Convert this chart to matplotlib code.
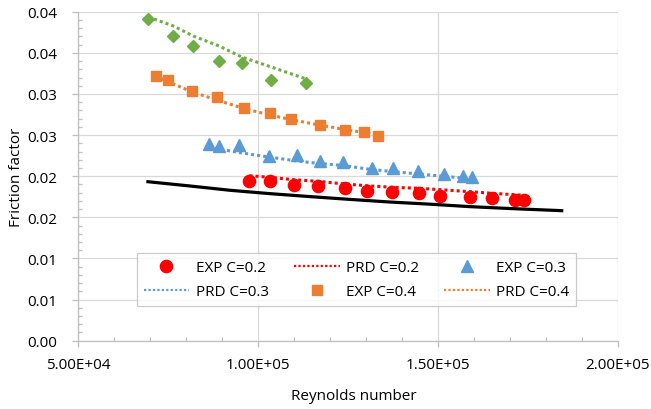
import matplotlib
matplotlib.use("Agg")
import matplotlib.pyplot as plt
from matplotlib.ticker import FixedLocator, MultipleLocator, FixedFormatter

plt.rcParams['font.family'] = ['Open Sans', 'DejaVu Sans']

# ---- data ----
re_c02 = [97640, 103330, 110000, 116580, 124170, 130360, 137310, 144810, 150750, 158890, 165080, 171390, 173890]
exp_c02 = [0.01945, 0.01938, 0.01897, 0.01884, 0.01853, 0.01824, 0.01804, 0.01793, 0.01763, 0.01743, 0.01731, 0.01714, 0.01714]
prd_c02 = [0.02006, 0.01987, 0.01957, 0.01938, 0.01905, 0.01884, 0.01865, 0.01853, 0.01836, 0.01812, 0.01792, 0.01775, 0.01768]

re_c03 = [86390, 89170, 94720, 103140, 110750, 117220, 123690, 131580, 137420, 144530, 151670, 157030, 159640]
exp_c03 = [0.02391, 0.02371, 0.02379, 0.02249, 0.02258, 0.02181, 0.02176, 0.02096, 0.02100, 0.02060, 0.02023, 0.01999, 0.01994]
prd_c03 = [0.02355, 0.02331, 0.02288, 0.02233, 0.02185, 0.02154, 0.02130, 0.02081, 0.02057, 0.02027, 0.01999, 0.01978, 0.01966]

re_c04 = [71580, 74920, 81750, 88530, 96110, 103330, 109080, 117140, 124170, 129440, 133420]
exp_c04 = [0.03222, 0.03166, 0.03032, 0.02959, 0.02826, 0.02772, 0.02692, 0.02626, 0.02565, 0.02537, 0.02492]
prd_c04 = [0.03218, 0.03151, 0.03024, 0.02927, 0.02823, 0.02744, 0.02689, 0.02622, 0.02568, 0.02531, 0.02501]

re_c05 = [69530, 76470, 82030, 89170, 95470, 103690, 113420]
exp_c05 = [0.03911, 0.03701, 0.03579, 0.03397, 0.03376, 0.03166, 0.03137]
prd_c05 = [0.03936, 0.03827, 0.03705, 0.03584, 0.03450, 0.03328, 0.03182]

re_ref = [69444, 81111, 92222, 103333, 114444, 125556, 136667, 147778, 158889, 170000, 184444]
f_ref = [0.01933, 0.01881, 0.01829, 0.01788, 0.01752, 0.01718, 0.01686, 0.01660, 0.01630, 0.01607, 0.01581]

x_ticks = [50000, 100000, 150000, 200000]
x_tick_labels = ['5.00E+04', '1.00E+05', '1.50E+05', '2.00E+05']
y_ticks = [0.0, 0.005, 0.01, 0.015, 0.02, 0.025, 0.03, 0.035, 0.04]
y_tick_labels = ['0.00', '0.01', '0.01', '0.02', '0.02', '0.03', '0.03', '0.04', '0.04']

RED = '#ff0000'
BLUE = '#5b9bd5'
ORANGE = '#ed7d31'
GREEN = '#70ad47'

fig = plt.figure(figsize=(6.51, 4.10), dpi=100)
ax = fig.add_axes([78 / 651, 1 - 341.7 / 410, 539.7 / 651, 329 / 410])

dot = (0, (1.0, 1.0))
lw = 2.2

h_e2, = ax.plot(re_c02, exp_c02, linestyle='none', marker='o', ms=8.8, color=RED, mec=RED, zorder=3, label='EXP C=0.2')
h_p2, = ax.plot(re_c02, prd_c02, linestyle=dot, lw=lw, color=RED, zorder=4, label='PRD C=0.2')
h_e3, = ax.plot(re_c03, exp_c03, linestyle='none', marker='^', ms=8.2, color=BLUE, mec=BLUE, zorder=3, label='EXP C=0.3')
h_p3, = ax.plot(re_c03, prd_c03, linestyle=dot, lw=lw, color=BLUE, zorder=4, label='PRD C=0.3')
h_e4, = ax.plot(re_c04, exp_c04, linestyle='none', marker='s', ms=7.6, color=ORANGE, mec=ORANGE, zorder=3, label='EXP C=0.4')
h_p4, = ax.plot(re_c04, prd_c04, linestyle=dot, lw=lw, color=ORANGE, zorder=4, label='PRD C=0.4')
ax.plot(re_c05, exp_c05, linestyle='none', marker='D', ms=5.8, color=GREEN, mec=GREEN, zorder=3)
ax.plot(re_c05, prd_c05, linestyle=dot, lw=lw, color=GREEN, zorder=4)
ax.plot(re_ref, f_ref, linestyle='-', lw=2.3, color='black', zorder=4)

ax.set_xlim(50000, 200000)
ax.set_ylim(0, 0.04)
ax.xaxis.set_major_locator(FixedLocator(x_ticks))
ax.xaxis.set_major_formatter(FixedFormatter(x_tick_labels))
ax.xaxis.set_minor_locator(MultipleLocator(10000))
ax.yaxis.set_major_locator(FixedLocator(y_ticks))
ax.yaxis.set_major_formatter(FixedFormatter(y_tick_labels))
ax.yaxis.set_minor_locator(MultipleLocator(0.001))

ax.grid(True, which='major', color='#d9d9d9', lw=0.9, zorder=0)
ax.set_axisbelow(True)
for s in ['top', 'right']:
    ax.spines[s].set_visible(False)
for s in ['left', 'bottom']:
    ax.spines[s].set_color('#bfbfbf')
    ax.spines[s].set_linewidth(0.9)

ax.tick_params(which='major', direction='out', length=4.5, width=0.9, color='#bfbfbf',
               labelsize=11, labelcolor='#000000')
ax.tick_params(axis='y', which='major', pad=10.5)
ax.tick_params(axis='x', which='major', pad=7.5)
ax.tick_params(which='minor', direction='in', length=3, width=0.9, color='#bfbfbf')

fig.text(354.3 / 651, 1 - 396.7 / 410, 'Reynolds number', ha='center', va='center', fontsize=11)
fig.text(16.5 / 651, 1 - 177 / 410, 'Friction factor', ha='center', va='center', rotation=90, fontsize=11)

handles = [h_e2, h_p3, h_p2, h_e4, h_e3, h_p4]
leg = ax.legend(handles=handles, labels=[h.get_label() for h in handles], ncol=3,
                loc='upper left', bbox_to_anchor=((136.7 - 78) / 539.7, (341.7 - 254.3) / 329),
                borderaxespad=0, fontsize=11, frameon=True, fancybox=False,
                handlelength=3.0, handletextpad=0.43, columnspacing=1.62,
                borderpad=0.45, labelspacing=0.58, markerscale=1.0)
leg.get_frame().set_edgecolor('#bfbfbf')
leg.get_frame().set_linewidth(0.9)
for line in leg.get_lines():
    line.set_linewidth(1.6)

fig.savefig('out.png', dpi=100)
